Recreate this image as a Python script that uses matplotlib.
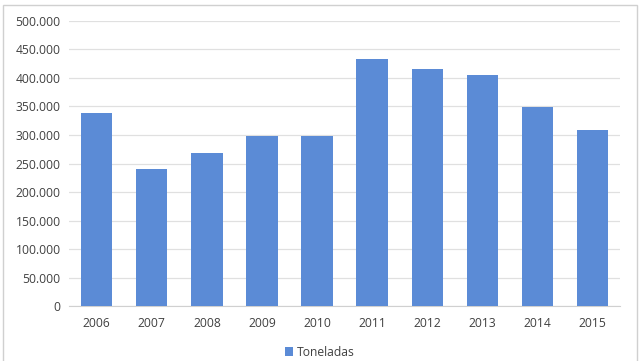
import matplotlib
matplotlib.use("Agg")
import matplotlib.pyplot as plt
from matplotlib.patches import Rectangle
from matplotlib.ticker import FuncFormatter

years = ["2006", "2007", "2008", "2009", "2010", "2011", "2012", "2013", "2014", "2015"]
toneladas = [339000, 241000, 268000, 298000, 299000, 433000, 415000, 405000, 349000, 309000]

plt.rcParams['font.family'] = ['Open Sans', 'DejaVu Sans']

fig = plt.figure(figsize=(6.4, 3.61), dpi=100)
ax = fig.add_axes([0.108, 0.152, 0.861, 0.79])

# marco gris del gráfico
fig.patches.append(Rectangle((3 / 640, -0.05), 634 / 640, 1 - 5 / 361 + 0.05,
                             transform=fig.transFigure, fill=False,
                             edgecolor="#d0d0d0", linewidth=1.0))

ax.bar(years, toneladas, width=0.57, color="#5b8bd6", label="Toneladas", zorder=3)

ax.set_ylim(0, 500000)
ax.set_yticks(range(0, 500001, 50000))
ax.yaxis.set_major_formatter(FuncFormatter(lambda v, p: f"{int(v):,}".replace(",", ".")))
ax.set_xlim(-0.5, len(years) - 0.5)
ax.grid(axis="y", color="#e0e0e0", linewidth=0.9, zorder=0)

for s in ["top", "right", "left"]:
    ax.spines[s].set_visible(False)
ax.spines["bottom"].set_color("#d0d0d0")
ax.tick_params(axis="y", length=0, labelsize=8.7, labelcolor="#404040", pad=6)
ax.tick_params(axis="x", length=0, labelsize=8.7, labelcolor="#404040", pad=8)

fig.legend(loc="lower center", bbox_to_anchor=(0.5, 0.0), frameon=False,
           fontsize=8.7, handlelength=0.7, handleheight=0.7, handletextpad=0.3,
           labelcolor="#404040", borderaxespad=0.1, borderpad=0.1)

fig.savefig("out.png", dpi=100)
